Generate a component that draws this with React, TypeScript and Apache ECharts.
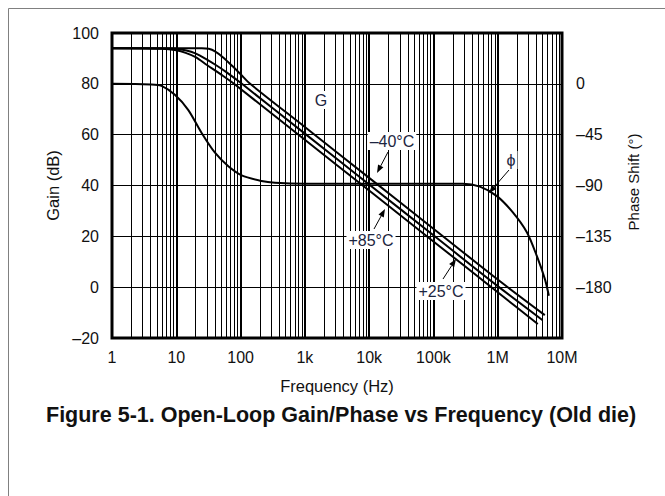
import React, { useEffect, useRef } from "react";
import * as echarts from "echarts";

// ---- axis ticks ----
const freqTicks = [1, 10, 100, 1e3, 1e4, 1e5, 1e6, 1e7];
const freqTickLabels = ["1", "10", "100", "1k", "10k", "100k", "1M", "10M"];
const decadeStarts = [1, 10, 100, 1e3, 1e4, 1e5, 1e6];
const minorMultipliers = [2, 3, 4, 5, 6, 7, 8, 9];
const gainTicks = [-20, 0, 20, 40, 60, 80, 100];
const phaseTicks = [0, -45, -90, -135, -180];

// ---- gain curves (Hz, dB) ----
const gainM40Freq = [1, 10, 25, 32, 40, 53, 76, 100, 141, 1000, 10000, 100000, 1000000, 5400000];
const gainM40 = [94, 94, 94, 93.8, 92.8, 90.5, 86.8, 83.8, 80, 63, 43, 23, 3, -11];

const gain25Freq = [1, 8, 12, 17, 23, 40, 60, 105, 1000, 10000, 100000, 1000000, 5000000];
const gain25 = [94, 93.9, 93.5, 92.6, 91.2, 87.6, 84.6, 80, 60.4, 40.4, 20.4, 0.4, -13];

const gain85Freq = [1, 6, 10, 14, 20, 30, 50, 79, 1000, 10000, 100000, 1000000, 4200000];
const gain85 = [94, 93.8, 93.2, 92.2, 90.5, 87.4, 83.6, 80, 58, 38, 18, -2, -14.5];

// ---- phase curve (Hz, degrees) ----
const phaseFreq = [1, 4, 5.9, 9.5, 15.3, 24.8, 40, 64.5, 104, 212, 343, 1000, 10000, 100000, 288000, 528000, 972000, 1720000, 2840000, 4070000, 5420000, 6250000];
const phaseDeg = [0, -0.5, -1.8, -9.7, -23, -43.5, -61, -73, -81, -86, -87.6, -88.5, -88.5, -88.5, -88.5, -91, -99.4, -113.8, -131.4, -152.6, -172.9, -187.6];

const FONT = "'Liberation Sans', Arial, sans-serif";
const TXT = "#111";
const ANN = "#1c2540";

const pairs = (xs: number[], ys: number[]) => xs.map((x, i) => [x, ys[i]]);
const dash = (v: number) => (v < 0 ? "\u2013" + Math.abs(v) : String(v));

function arrow(x1: number, y1: number, x2: number, y2: number) {
  const dx = x2 - x1, dy = y2 - y1;
  const len = Math.sqrt(dx * dx + dy * dy);
  const ux = dx / len, uy = dy / len;
  const hl = 8, hw = 3;
  const bx = x2 - ux * hl, by = y2 - uy * hl;
  return [
    { type: "line", z: 100, shape: { x1, y1, x2: bx, y2: by }, style: { stroke: "#000", lineWidth: 1 } },
    {
      type: "polygon", z: 100,
      shape: { points: [[x2, y2], [bx - uy * hw, by + ux * hw], [bx + uy * hw, by - ux * hw]] },
      style: { fill: "#000" },
    },
  ];
}

function label(text: string, x: number, y: number, size = 16) {
  return {
    type: "text", z: 101, x, y,
    style: {
      text, fill: ANN, font: `${size}px ${FONT}`, align: "center", verticalAlign: "middle",
      backgroundColor: "#fff", padding: [1, 2],
    },
  };
}

export default function App() {
  const ref = useRef<HTMLDivElement>(null);
  useEffect(() => {
    const chart = echarts.init(ref.current!, undefined, { renderer: "svg" });
    const minorLines: any[] = [];
    decadeStarts.forEach((d) => minorMultipliers.forEach((m) => minorLines.push({ xAxis: d * m })));
    const curve = (name: string, data: number[][], yi = 0, extra: any = {}) => ({
      name, type: "line", yAxisIndex: yi, data, showSymbol: false, smooth: 0.3,
      lineStyle: { color: "#000", width: 2 }, z: 5, silent: true, ...extra,
    });
    chart.setOption({
      animation: false,
      backgroundColor: "#fff",
      textStyle: { fontFamily: FONT },
      title: {
        text: "Figure 5-1. Open-Loop Gain/Phase vs Frequency (Old die)",
        left: 41, top: 399,
        textStyle: { fontFamily: FONT, fontSize: 21.5, fontWeight: "bold", color: TXT },
      },
      grid: { left: 112, top: 33, right: 103, bottom: 158, show: true, borderColor: "#000", borderWidth: 3 },
      xAxis: {
        type: "log", logBase: 10, min: 1, max: 1e7, splitNumber: 7,
        name: "Frequency (Hz)", nameLocation: "middle", nameGap: 39,
        nameTextStyle: { fontFamily: FONT, fontSize: 16.5, color: TXT },
        axisLine: { show: false }, axisTick: { show: false },
        axisLabel: {
          fontFamily: FONT, fontSize: 16, color: TXT, margin: 11,
          formatter: (v: number) => {
            const i = freqTicks.findIndex((t) => Math.abs(Math.log10(t) - Math.log10(v)) < 1e-6);
            return i >= 0 ? freqTickLabels[i] : "";
          },
        },
        splitLine: { show: true, lineStyle: { color: "#000", width: 2 } },
        minorTick: { show: false }, minorSplitLine: { show: false },
      },
      yAxis: [
        {
          type: "value", min: -20, max: 100, interval: 20,
          name: "Gain (dB)", nameLocation: "middle", nameGap: 48,
          nameTextStyle: { fontFamily: FONT, fontSize: 16.5, color: TXT },
          axisLine: { show: false }, axisTick: { show: false },
          axisLabel: {
            fontFamily: FONT, fontSize: 16, color: TXT, margin: 13,
            formatter: (v: number) => (gainTicks.includes(v) ? dash(v) : ""),
          },
          splitLine: { show: true, lineStyle: { color: "#000", width: 1 } },
        },
        {
          type: "value", min: -225, max: 45, interval: 45, position: "right",
          axisLine: { show: false }, axisTick: { show: false },
          axisLabel: {
            fontFamily: FONT, fontSize: 16, color: TXT, margin: 14,
            formatter: (v: number) => (phaseTicks.includes(v) ? dash(v) : ""),
          },
          splitLine: { show: false },
        },
      ],
      series: [
        curve("-40°C", pairs(gainM40Freq, gainM40)),
        curve("+25°C", pairs(gain25Freq, gain25)),
        curve("+85°C", pairs(gain85Freq, gain85)),
        curve("Phase", pairs(phaseFreq, phaseDeg), 1, {
          markLine: {
            silent: true, symbol: "none", label: { show: false }, animation: false,
            lineStyle: { color: "#000", width: 1, type: "solid" },
            data: minorLines,
          },
        }),
      ],
      graphic: [
        { type: "rect", z: 0, shape: { x: 8.5, y: 8.5, width: 700, height: 600 }, style: { fill: "none", stroke: "#808080", lineWidth: 1 } },
        {
          type: "text", x: 633, y: 182, rotation: Math.PI / 2, z: 50,
          style: { text: "Phase Shift (\u00B0)", fill: TXT, font: `15px ${FONT}`, align: "center", verticalAlign: "middle" },
        },
        label("G", 321, 100),
        label("\u201340\u00B0C", 392, 141),
        label("+85\u00B0C", 371, 240),
        label("+25\u00B0C", 441, 291),
        label("\u03D5", 511, 160),
        ...arrow(388, 152, 377, 173),
        ...arrow(374, 229, 385, 209),
        ...arrow(443, 279, 456, 259),
        ...arrow(509, 170, 489, 193),
      ],
    });
    return () => chart.dispose();
  }, []);
  return <div ref={ref} style={{ position: "absolute", left: 0, top: 0, width: 665, height: 496, background: "#fff" }} />;
}
